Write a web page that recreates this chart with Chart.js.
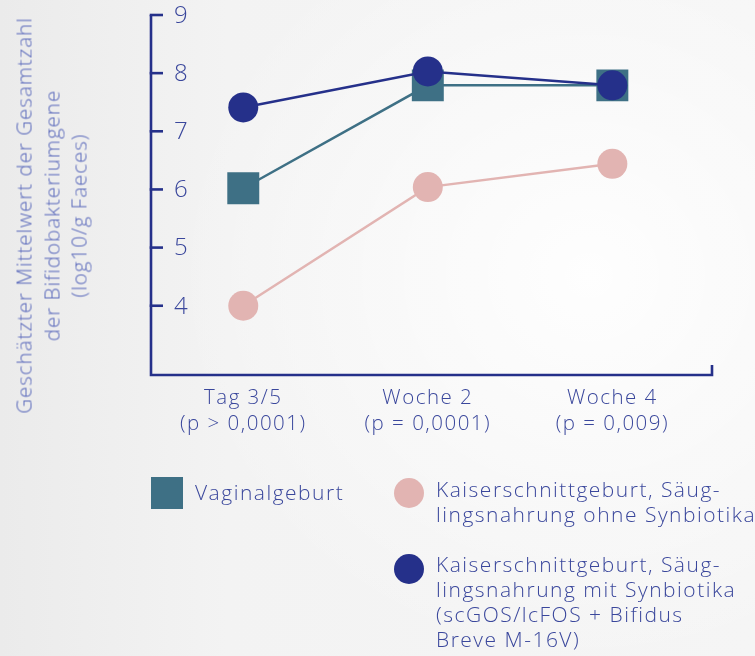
<!DOCTYPE html>
<html>
<head>
<meta charset="utf-8">
<script src="https://cdn.jsdelivr.net/npm/chart.js@4.4.1/dist/chart.umd.min.js"></script>
<style>
  body { margin: 0; }
  #wrap {
    position: relative; width: 755px; height: 656px; overflow: hidden;
    background:
      radial-gradient(ellipse 55% 60% at 78% 42%, rgba(255,255,255,0.9), rgba(255,255,255,0) 100%),
      linear-gradient(90deg, #ebebeb 0%, #f3f3f3 30%, #f5f5f5 100%);
    font-family: "Open Sans", sans-serif;
    font-weight: 300;
  }
  #c { position: absolute; left: 0; top: 0; }
  #ytitle {
    position: absolute; left: -168px; top: 174px; width: 440px; height: 83px;
    transform: rotate(-90deg); transform-origin: 50% 50%;
    text-align: center; line-height: 27.5px; font-size: 20.5px; color: #5a69bb;
    letter-spacing: 1px; white-space: nowrap;
  }
  .lg { position: absolute; font-size: 21px; line-height: 25px; color: #3a479c; letter-spacing: 1.5px; white-space: nowrap; }
  .sw { position: absolute; }
</style>
</head>
<body>
<div id="wrap">
  <canvas id="c" width="755" height="656"></canvas>
  <div id="ytitle">Geschätzter Mittelwert der Gesamtzahl<br>der Bifidobakteriumgene<br>(log10/g Faeces)</div>
  <div id="legend"></div>
</div>
<script>
// ===== Data =====
const categories = [['Tag 3/5', '(p > 0,0001)'], ['Woche 2', '(p = 0,0001)'], ['Woche 4', '(p = 0,009)']];
const vaginal = [6.02, 7.79, 7.79];
const csWithout = [4.0, 6.04, 6.44];
const csWith = [7.41, 8.03, 7.79];
const yTicks = [4, 5, 6, 7, 8, 9];
const legendLines = [
    ['Vaginalgeburt'],
    ['Kaiserschnittgeburt, Säug-', 'lingsnahrung ohne Synbiotika'],
    ['Kaiserschnittgeburt, Säug-', 'lingsnahrung mit Synbiotika', '(scGOS/lcFOS + Bifidus', 'Breve M-16V)']
];

const NAVY = '#25308a';
const TEAL = '#3e7085';
const PINK = '#e2b4b2';
const TEXT = '#3a479c';

const toPoints = arr => arr.map((v, i) => ({ x: i, y: v }));
const noVertPadding = s => { s.paddingTop = 0; s.paddingBottom = 0; };

// wider text like the original geometric font
const spacingPlugin = {
    id: 'spacing',
    beforeLayout(chart) { chart.ctx.letterSpacing = '1.5px'; },
    beforeDraw(chart) { chart.ctx.letterSpacing = '1.5px'; }
};

// ===== Axes drawn with inward ticks =====
const axesPlugin = {
    id: 'axes',
    beforeDatasetsDraw(chart) {
        const { ctx, chartArea, scales: { y } } = chart;
        const left = chartArea.left, right = chartArea.right, bottom = chartArea.bottom;
        const top = y.getPixelForValue(yTicks[yTicks.length - 1]);
        ctx.save();
        ctx.strokeStyle = NAVY;
        ctx.lineWidth = 2.6;
        ctx.beginPath();
        ctx.moveTo(left, top);
        ctx.lineTo(left, bottom);
        ctx.lineTo(right, bottom);
        ctx.lineTo(right, bottom - 10);
        ctx.stroke();
        ctx.fillStyle = TEXT;
        ctx.font = '300 24px "Open Sans"';
        ctx.textAlign = 'left';
        ctx.textBaseline = 'middle';
        yTicks.forEach(t => {
            const py = y.getPixelForValue(t);
            ctx.beginPath();
            ctx.moveTo(left - 1.3, py);
            ctx.lineTo(left + 12, py);
            ctx.stroke();
            ctx.fillText(String(t), left + 23, py + 1);
        });
        ctx.restore();
    }
};

const ctx = document.getElementById('c').getContext('2d');
const chart = new Chart(ctx, {
    type: 'line',
    data: {
        datasets: [
            {
                label: legendLines[0].join(' '),
                data: toPoints(vaginal),
                borderColor: TEAL, backgroundColor: TEAL,
                borderWidth: 2.5, pointStyle: 'rect', pointRadius: 22.6,
                pointBorderWidth: 0, order: 1
            },
            {
                label: legendLines[1].join(' '),
                data: toPoints(csWithout),
                borderColor: PINK, backgroundColor: PINK,
                borderWidth: 2.5, pointStyle: 'circle', pointRadius: 15,
                pointBorderWidth: 0, order: 2
            },
            {
                label: legendLines[2].join(' '),
                data: toPoints(csWith),
                borderColor: NAVY, backgroundColor: NAVY,
                borderWidth: 2.5, pointStyle: 'circle', pointRadius: 15,
                pointBorderWidth: 0, order: 0
            }
        ]
    },
    options: {
        responsive: false,
        animation: false,
        devicePixelRatio: 1,
        clip: false,
        layout: { autoPadding: false, padding: { left: 151, right: 43, top: 15, bottom: 209 } },
        plugins: { legend: { display: false }, tooltip: { enabled: false } },
        scales: {
            x: {
                type: 'linear', min: -0.5, max: 2.54,
                grid: { display: false, drawTicks: false },
                border: { display: false },
                afterBuildTicks: scale => { scale.ticks = categories.map((c, i) => ({ value: i })); },
                afterFit: noVertPadding,
                ticks: {
                    callback: v => categories[v],
                    color: TEXT, padding: 10, maxRotation: 0, autoSkip: false,
                    font: { family: 'Open Sans', weight: '300', size: 20.5, lineHeight: 1.27 }
                }
            },
            y: {
                display: false, min: 2.81, max: 9,
                ticks: { display: false, padding: 0 },
                afterFit: noVertPadding
            }
        }
    },
    plugins: [spacingPlugin, axesPlugin]
});

// ===== HTML legend =====
const legendBox = document.getElementById('legend');
const legendColors = [TEAL, PINK, NAVY];
const swatches = [
    { left: 151, top: 477, w: 32, h: 32, r: 0 },
    { left: 394, top: 478, w: 30, h: 30, r: 15 },
    { left: 394, top: 554, w: 30, h: 30, r: 15 }
];
const textPos = [{ left: 195, top: 480 }, { left: 436, top: 477 }, { left: 436, top: 552 }];
legendLines.forEach((lines, i) => {
    const s = swatches[i];
    const sw = document.createElement('div');
    sw.className = 'sw';
    sw.style.cssText = `left:${s.left}px;top:${s.top}px;width:${s.w}px;height:${s.h}px;border-radius:${s.r}px;background:${legendColors[i]}`;
    legendBox.appendChild(sw);
    const t = document.createElement('div');
    t.className = 'lg';
    t.style.left = textPos[i].left + 'px';
    t.style.top = textPos[i].top + 'px';
    t.innerHTML = lines.join('<br>');
    legendBox.appendChild(t);
});
</script>
</body>
</html>
